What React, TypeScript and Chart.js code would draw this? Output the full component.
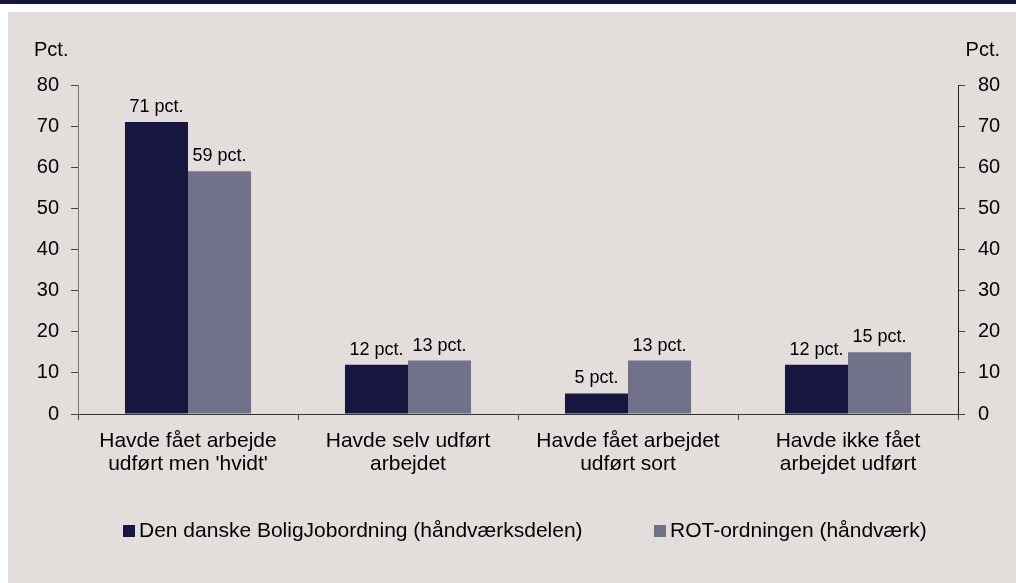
import React, { useEffect, useRef } from "react";
import { Chart, registerables } from "chart.js";

Chart.register(...registerables);

const categories: string[][] = [
  ["Havde fået arbejde", "udført men 'hvidt'"],
  ["Havde selv udført", "arbejdet"],
  ["Havde fået arbejdet", "udført sort"],
  ["Havde ikke fået", "arbejdet udført"],
];
const seriesNames = [
  "Den danske BoligJobordning (håndværksdelen)",
  "ROT-ordningen (håndværk)",
];
const boligJob = [71, 12, 5, 12];
const rot = [59, 13, 13, 15];
const yTicks = [0, 10, 20, 30, 40, 50, 60, 70, 80];
const unitLabel = "Pct.";
const valueSuffix = " pct.";

const DARK = "#16163e";
const LIGHT = "#71718a";
const BG = "#e3dddc";
const NAVY = "#15163f";
const FONT = "'Liberation Sans', Arial, sans-serif";

export default function App() {
  const ref = useRef<HTMLCanvasElement | null>(null);

  useEffect(() => {
    const canvas = ref.current;
    if (!canvas) return;

    const decor = {
      id: "decor",
      beforeDraw(chart: any) {
        const ctx = chart.ctx;
        ctx.save();
        ctx.fillStyle = "#ffffff";
        ctx.fillRect(0, 0, chart.width, chart.height);
        ctx.fillStyle = NAVY;
        ctx.fillRect(0, 0, chart.width, 4);
        ctx.fillStyle = BG;
        ctx.fillRect(8, 12, chart.width - 8, chart.height - 12);
        ctx.restore();
      },
      afterDraw(chart: any) {
        const ctx = chart.ctx;
        const area = chart.chartArea;
        ctx.save();
        ctx.fillStyle = "#000";
        ctx.font = `20px ${FONT}`;
        ctx.textBaseline = "middle";
        ctx.textAlign = "left";
        ctx.fillText(unitLabel, area.left - 44, 50);
        ctx.textAlign = "right";
        ctx.fillText(unitLabel, area.right + 42, 50);

        // data labels
        ctx.font = `18px ${FONT}`;
        ctx.textAlign = "center";
        ctx.textBaseline = "alphabetic";
        chart.data.datasets.forEach((ds: any, di: number) => {
          const meta = chart.getDatasetMeta(di);
          meta.data.forEach((bar: any, i: number) => {
            ctx.fillText(ds.data[i] + valueSuffix, bar.x, bar.y - 10);
          });
        });

        // legend
        ctx.font = `21px ${FONT}`;
        ctx.textAlign = "left";
        ctx.textBaseline = "middle";
        const legendX = [123, 654];
        const ly = 531;
        chart.data.datasets.forEach((ds: any, di: number) => {
          ctx.fillStyle = ds.backgroundColor;
          ctx.fillRect(legendX[di], ly - 6, 12, 12);
          ctx.fillStyle = "#000";
          ctx.fillText(ds.label, legendX[di] + 16, ly);
        });
        ctx.restore();
      },
    };

    const yCommon = {
      min: 0,
      max: 80,
      afterBuildTicks: (scale: any) => {
        scale.ticks = yTicks.map((v) => ({ value: v }));
      },
      grid: {
        drawOnChartArea: false,
        drawTicks: true,
        tickLength: 7,
        color: "#444",
      },
    };

    const chart = new Chart(canvas, {
      type: "bar",
      data: {
        labels: categories,
        datasets: [
          {
            label: seriesNames[0],
            data: boligJob,
            backgroundColor: DARK,
            yAxisID: "y",
          },
          {
            label: seriesNames[1],
            data: rot,
            backgroundColor: LIGHT,
            yAxisID: "y",
          },
        ],
      },
      options: {
        responsive: false,
        animation: false,
        devicePixelRatio: 1,
        layout: { padding: { top: 85, bottom: 69, left: 0, right: 0 } },
        datasets: {
          bar: { categoryPercentage: 0.573, barPercentage: 1 },
        } as any,
        plugins: {
          legend: { display: false },
          tooltip: { enabled: false },
        },
        scales: {
          x: {
            afterFit: (scale: any) => {
              scale.height = 100;
            },
            grid: {
              drawOnChartArea: false,
              drawTicks: true,
              tickLength: 6,
              color: "#444",
            },
            border: { color: "#333", width: 1 },
            ticks: {
              color: "#000",
              padding: 10,
              maxRotation: 0,
              autoSkip: false,
              font: { family: FONT, size: 21, lineHeight: 1.1 },
            },
          },
          y: {
            ...yCommon,
            position: "left",
            afterFit: (scale: any) => {
              scale.width = 78;
            },
            border: { color: "#777", width: 1 },
            ticks: {
              color: "#000",
              padding: 12,
              font: { family: FONT, size: 20 },
            },
          } as any,
          y2: {
            ...yCommon,
            position: "right",
            afterFit: (scale: any) => {
              scale.width = 58;
            },
            border: { color: "#222", width: 1 },
            ticks: {
              color: "#000",
              padding: 13,
              font: { family: FONT, size: 20 },
            },
          } as any,
        },
      },
      plugins: [decor],
    });

    return () => chart.destroy();
  }, []);

  return (
    <canvas
      ref={ref}
      width={1016}
      height={583}
      style={{ position: "fixed", left: 0, top: 0, width: 1016, height: 583 }}
    />
  );
}
